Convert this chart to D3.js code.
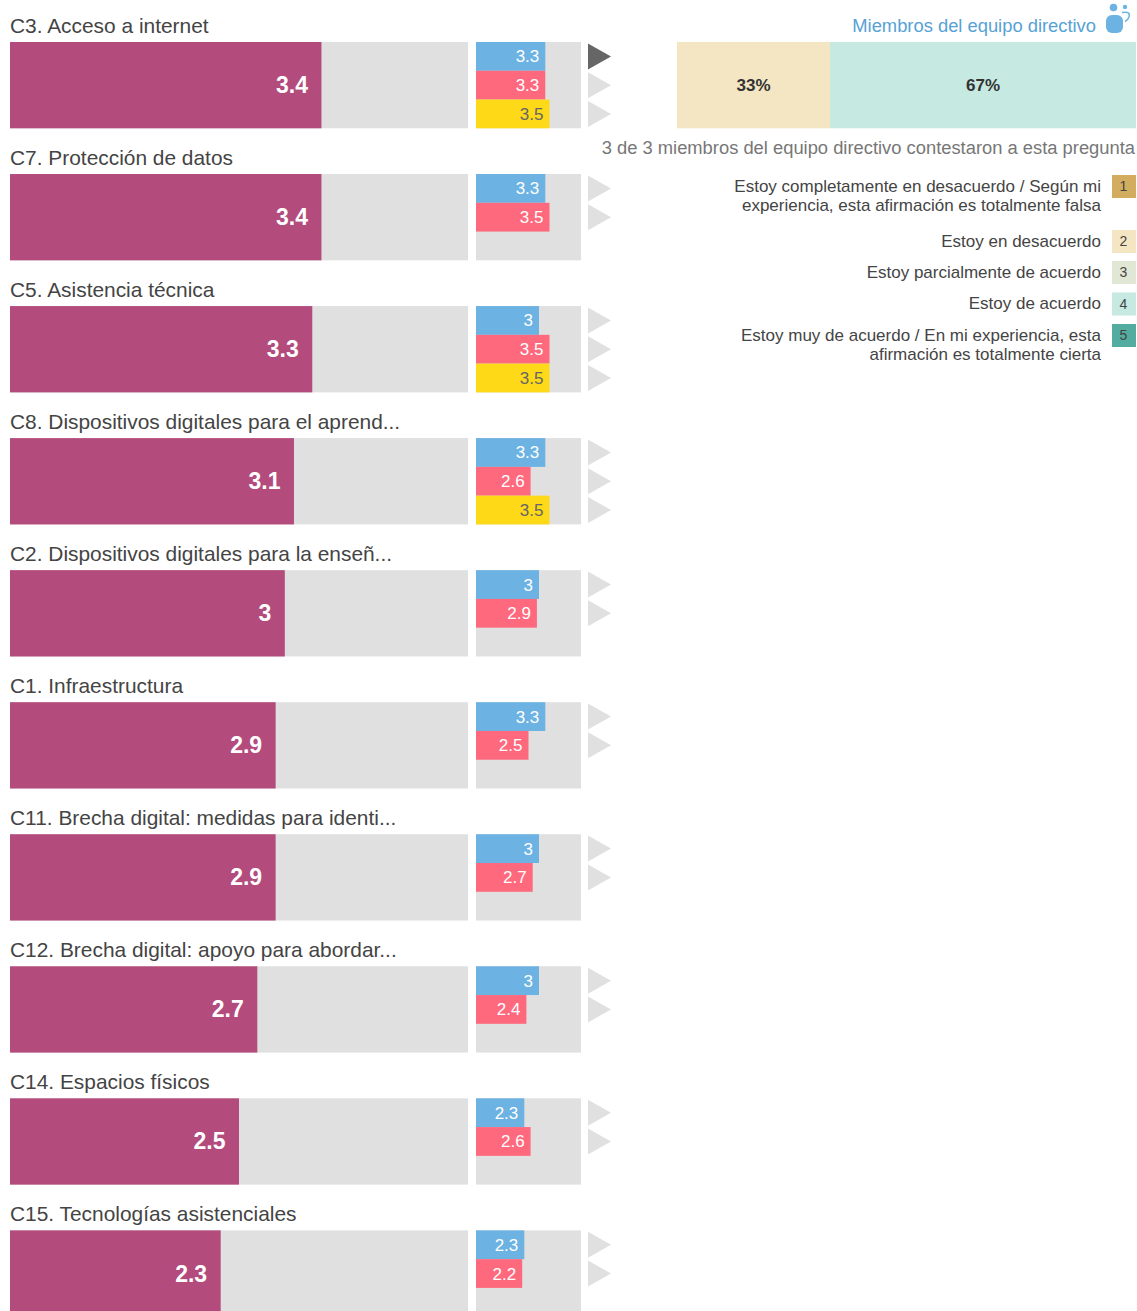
<!DOCTYPE html>
<html>
<head>
<meta charset="utf-8">
<script src="https://cdn.jsdelivr.net/npm/d3@7"></script>
<style>
  html, body { margin: 0; padding: 0; background: #fff; overflow: hidden; }
  text { font-family: "Liberation Sans", Arial, sans-serif; }
</style>
</head>
<body>
<div id="chart"></div>
<script>
// data
const categories = [
  "C3. Acceso a internet",
  "C7. Protección de datos",
  "C5. Asistencia técnica",
  "C8. Dispositivos digitales para el aprend...",
  "C2. Dispositivos digitales para la enseñ...",
  "C1. Infraestructura",
  "C11. Brecha digital: medidas para identi...",
  "C12. Brecha digital: apoyo para abordar...",
  "C14. Espacios físicos",
  "C15. Tecnologías asistenciales"
];
const mainValues = [3.4, 3.4, 3.3, 3.1, 3, 2.9, 2.9, 2.7, 2.5, 2.3];
const blueValues = [3.3, 3.3, 3, 3.3, 3, 3.3, 3, 3, 2.3, 2.3];
const redValues = [3.3, 3.5, 3.5, 2.6, 2.9, 2.5, 2.7, 2.4, 2.6, 2.2];
const yellowValues = [3.5, null, 3.5, 3.5, null, null, null, null, null, null];

const stackCounts = [1, 2];
const stackLabels = ["33%", "67%"];
const stackColors = ["#f5e6c3", "#c6e9e2"];

const legendLabels = [
  ["Estoy completamente en desacuerdo / Según mi", "experiencia, esta afirmación es totalmente falsa"],
  ["Estoy en desacuerdo"],
  ["Estoy parcialmente de acuerdo"],
  ["Estoy de acuerdo"],
  ["Estoy muy de acuerdo / En mi experiencia, esta", "afirmación es totalmente cierta"]
];
const legendColors = ["#d3ad5f", "#f5e6c3", "#e1e7d5", "#c6e9e2", "#52ac9f"];

const width = 1137, height = 1311;
const svg = d3.select("#chart").append("svg")
  .attr("width", width)
  .attr("height", height)
  .style("display", "block");

// scales
const rowY = d3.scaleLinear().domain([0, 1]).range([42, 174.04]);
const barH = 86.3;
const mainX = d3.scaleLinear().domain([0, 5]).range([10, 468]);
const smallX = d3.scaleLinear().domain([0, 5]).range([476, 581]);
const slotY = d3.scaleBand().domain([0, 1, 2]).range([0, barH]);

const seriesList = [
  { values: blueValues, color: "#6cb2e2", text: "#fff" },
  { values: redValues, color: "#fe697d", text: "#fff" },
  { values: yellowValues, color: "#fdd918", text: "#666" }
];

const rows = svg.selectAll("g.row")
  .data(categories)
  .join("g")
  .attr("class", "row")
  .attr("transform", (d, i) => `translate(0, ${rowY(i)})`);

rows.append("text")
  .attr("x", 10)
  .attr("y", -9)
  .attr("font-size", 20.9)
  .attr("fill", "#444")
  .text(d => d);

// main bar
rows.append("rect")
  .attr("x", mainX(0))
  .attr("width", mainX(5) - mainX(0))
  .attr("height", barH)
  .attr("fill", "#e0e0e0");

rows.append("rect")
  .attr("x", mainX(0))
  .attr("width", (d, i) => mainX(mainValues[i]) - mainX(0))
  .attr("height", barH)
  .attr("fill", "#b34b7d");

rows.append("text")
  .attr("x", (d, i) => mainX(mainValues[i]) - 13.5)
  .attr("y", barH / 2 + 8)
  .attr("text-anchor", "end")
  .attr("font-size", 23)
  .attr("font-weight", "bold")
  .attr("fill", "#fff")
  .text((d, i) => mainValues[i]);

// small comparison bars
rows.append("rect")
  .attr("x", smallX(0))
  .attr("width", smallX(5) - smallX(0))
  .attr("height", barH)
  .attr("fill", "#e0e0e0");

rows.each(function (d, i) {
  const row = d3.select(this);
  seriesList.forEach((s, j) => {
    const v = s.values[i];
    if (v === null) return;
    row.append("rect")
      .attr("x", smallX(0))
      .attr("y", slotY(j))
      .attr("width", smallX(v) - smallX(0))
      .attr("height", slotY.bandwidth())
      .attr("fill", s.color);
    row.append("text")
      .attr("x", smallX(v) - 6)
      .attr("y", slotY(j) + slotY.bandwidth() / 2 + 6)
      .attr("text-anchor", "end")
      .attr("font-size", 17)
      .attr("fill", s.text)
      .text(v);
    const c = slotY(j) + slotY.bandwidth() / 2;
    row.append("path")
      .attr("d", `M588,${c - 13}L611,${c}L588,${c + 13}Z`)
      .attr("fill", i === 0 && j === 0 ? "#666" : "#e0e0e0");
  });
});

// detail panel on the right
const stackX = d3.scaleLinear().domain([0, d3.sum(stackCounts)]).range([677, 1136]);
const starts = d3.cumsum([0].concat(stackCounts));
const panel = svg.append("g");

panel.selectAll("rect")
  .data(stackCounts)
  .join("rect")
  .attr("x", (d, i) => stackX(starts[i]))
  .attr("y", 42)
  .attr("width", d => stackX(d) - stackX(0))
  .attr("height", barH)
  .attr("fill", (d, i) => stackColors[i]);

panel.selectAll("text")
  .data(stackCounts)
  .join("text")
  .attr("x", (d, i) => stackX(starts[i] + d / 2))
  .attr("y", 91)
  .attr("text-anchor", "middle")
  .attr("font-size", 17)
  .attr("font-weight", "bold")
  .attr("fill", "#333")
  .text((d, i) => stackLabels[i]);

svg.append("text")
  .attr("x", 1096)
  .attr("y", 32)
  .attr("text-anchor", "end")
  .attr("font-size", 18.35)
  .attr("fill", "#56a2d5")
  .text("Miembros del equipo directivo");

// little people icon
const icon = svg.append("g").attr("fill", "#6cb2e2");
icon.append("rect").attr("x", 1106).attr("y", 15).attr("width", 17).attr("height", 18).attr("rx", 6);
icon.append("circle").attr("cx", 1113.5).attr("cy", 7.5).attr("r", 3.8);
icon.append("circle").attr("cx", 1125).attr("cy", 7).attr("r", 2.2);
icon.append("path")
  .attr("d", "M1122,12.5 Q1131,11 1129,17 Q1128,20 1125,21.5")
  .attr("fill", "none")
  .attr("stroke", "#6cb2e2")
  .attr("stroke-width", 1.5);

svg.append("text")
  .attr("x", 1135)
  .attr("y", 154)
  .attr("text-anchor", "end")
  .attr("font-size", 18.35)
  .attr("fill", "#777")
  .text("3 de 3 miembros del equipo directivo contestaron a esta pregunta");

// legend
const legendY = [175, 230, 261, 292.5, 324];
const legend = svg.selectAll("g.legend")
  .data(legendLabels)
  .join("g")
  .attr("class", "legend")
  .attr("transform", (d, i) => `translate(0, ${legendY[i]})`);

legend.append("rect")
  .attr("x", 1112)
  .attr("width", 24)
  .attr("height", 23)
  .attr("fill", (d, i) => legendColors[i]);

legend.append("text")
  .attr("x", 1123.5)
  .attr("y", 16)
  .attr("text-anchor", "middle")
  .attr("font-size", 14)
  .attr("fill", "#444")
  .text((d, i) => i + 1);

legend.each(function (lines) {
  d3.select(this).selectAll("text.line")
    .data(lines)
    .join("text")
    .attr("class", "line")
    .attr("x", 1101)
    .attr("y", (d, j) => 16.5 + j * 19.5)
    .attr("text-anchor", "end")
    .attr("font-size", 17)
    .attr("fill", "#444")
    .text(d => d);
});
</script>
</body>
</html>
